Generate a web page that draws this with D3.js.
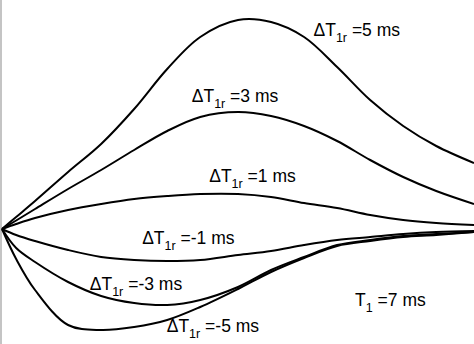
<!DOCTYPE html>
<html>
<head>
<meta charset="utf-8">
<script src="https://cdn.jsdelivr.net/npm/d3@7"></script>
<style>
  body { margin: 0; background: #fff; }
  svg { display: block; }
  .curve { fill: none; stroke: #000; stroke-width: 2; }
  .label { font-family: "Liberation Sans", Arial, sans-serif; font-size: 17.5px; fill: #000; }
</style>
</head>
<body>
<div id="chart"></div>
<script>
// eje de tiempo (unidades arbitrarias, 0..100)
const times = [0, 3, 7, 14, 21, 28, 35, 42, 50, 57, 64, 71, 78, 85, 92, 100];

// señal relativa para cada ΔT1r
const dT5  = [0, 12, 28, 57, 85, 120, 160, 192, 209, 207, 192, 162, 129, 103, 83, 66];
const dT3  = [0, 8.5, 20, 40, 59, 79, 98, 112, 117, 113, 103, 88, 69, 52, 38, 25];
const dT1  = [0, 5, 11, 19, 25, 30, 33, 35, 35, 32, 26, 21, 14, 9, 6, 4];
const dTm1 = [0, -6, -12, -21, -28, -31, -32, -31, -26, -22, -16, -11, -8, -5, -3, -2];
const dTm3 = [0, -19, -33, -53, -67, -74, -76, -71, -58, -41, -28, -16, -11, -7, -5, -3];
const dTm5 = [0, -30, -61, -96, -101, -98, -91, -78, -60, -43, -29, -17, -12, -8, -6, -3];

const seriesValues = [dT5, dT3, dT1, dTm1, dTm3, dTm5];
const seriesLabels = ["=5 ms", "=3 ms", "=1 ms", "=-1 ms", "=-3 ms", "=-5 ms"];
// posicion de cada etiqueta en unidades de datos [t, señal]
const labelAt = [[66, 193], [40.2, 127], [43.9, 47], [29.7, -15], [18.6, -61], [34.9, -103]];

class CurveChart {
    constructor(selector) {
        this.width = 474;
        this.height = 344;

        this.svg = d3.select(selector).append("svg")
            .attr("width", this.width)
            .attr("height", this.height);

        // eje x lógico
        this.x = d3.scaleLinear([0, 100], [2, 474]);
        // eje y lógico
        this.y = d3.scaleLinear([-115, 229], [344, 0]);

        this.update();
    }

    update() {
        // borde izquierdo gris
        this.svg.append("line")
            .attr("x1", 1).attr("x2", 1)
            .attr("y1", 0).attr("y2", this.height)
            .attr("stroke", "#c4c4c4")
            .attr("stroke-width", 2);

        let line = d3.line()
            .x((d, i) => this.x(times[i]))
            .y(d => this.y(d))
            .curve(d3.curveCatmullRom.alpha(0.5));

        this.svg.selectAll("path.curve")
            .data(seriesValues)
            .enter().append("path")
            .classed("curve", true)
            .attr("d", d => line(d));

        let labels = this.svg.selectAll("text.label")
            .data(seriesLabels)
            .enter().append("text")
            .classed("label", true)
            .attr("x", (d, i) => this.x(labelAt[i][0]))
            .attr("y", (d, i) => this.y(labelAt[i][1]));
        labels.append("tspan").text("ΔT");
        labels.append("tspan").text("1r")
            .attr("font-size", "12.5px").attr("dy", 6);
        labels.append("tspan").text(d => " " + d)
            .attr("dy", -6);

        // T1 = 7 ms
        let t1 = this.svg.append("text")
            .classed("label", true)
            .attr("x", this.x(74.8))
            .attr("y", this.y(-77));
        t1.append("tspan").text("T");
        t1.append("tspan").text("1").attr("font-size", "12.5px").attr("dy", 6);
        t1.append("tspan").text(" =7 ms").attr("dy", -6);
    }
}

new CurveChart("#chart");
</script>
</body>
</html>
